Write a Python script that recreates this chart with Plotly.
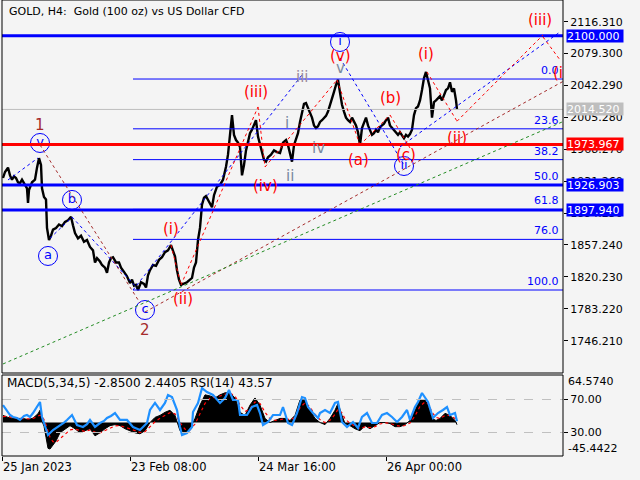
import plotly.graph_objects as go

# ---------------- data ----------------
bar_idx = [1,3,6,8,10,12,14,16,18,20,23,25,26,27,30,33,35,37,39,40,42,44,45,47,49,51,54,57,60,63,66,69,71,73,76,79,82,85,88,91,
           93,95,98,100,103,105,107,109,111,114,117,119,122,125,128,130,132,134,136,139,142,144,146,148,151,154,157,160,163,166,
           169,171,173,175,177,179,182,185,188,190,192,194,196,198,200,202,204,206,208,210,212,215,218,221,224,226,228,230,232,234,
           236,238,240,242,244,246,248,250,252,254,256,258,260,262,264,266,269,272,275,278,281,284,286,288,290,292,294,296,298,300,
           302,304,306,308,310,312,314,316,318,320,322,324,326,328,330,332,334,336,338,340,342,344,346,348,350,352,354,356,358,360,
           362,364,366,368,370,372,374,376,378,380,382,384,386,388,390,392,394,396,398,400,402,404,406,408,410,412,414,416,418,420,
           422,424,426,428,430,432,434,436,438,440,442,444,446,448,450,452,454,455]
close = [1935,1942,1947,1938,1933,1937,1935,1930,1929,1933,1927,1923,1906,1921,1930,1933,1947,1958,1950,1923,1913,1910,1877,1863,1868,1875,1877,1881,1879,1884,
         1886,1890,1880,1871,1865,1868,1861,1863,1855,1851,1837,1842,1838,1834,1831,1825,1837,1842,1843,1837,1837,1831,1826,1821,1813,1817,1810,1811,1805,1814,
         1812,1808,1822,1828,1834,1833,1840,1843,1849,1851,1857,1851,1844,1828,1817,1811,1813,1814,1817,1819,1831,1837,1863,1877,1904,1912,1914,1910,1906,1901,
         1915,1925,1927,1933,1948,1962,1985,2008,1985,1979,1976,1971,1938,1950,1967,1976,1987,1991,1996,2002,1983,1973,1964,1956,1954,1959,1962,1967,1965,1964,
         1976,1979,1973,1965,1954,1973,1981,1987,2000,2012,2021,2022,2016,2012,2005,1996,1993,1995,2000,2002,2005,2007,2012,2019,2028,2035,2043,2049,2034,2020,
         2012,2005,2002,2000,2005,2000,1996,1988,1973,1993,2000,2005,1996,1991,1985,1987,1991,1988,1994,1996,1998,2002,2005,1996,1993,1991,1987,1985,1988,1984,
         1981,1985,1983,1986,1991,2008,2016,2018,2025,2037,2051,2058,2049,2039,2005,2023,2025,2028,2030,2025,2031,2037,2039,2046,2035,2039,2025,2014.52]

macd_idx = [1,6,11,16,21,26,31,36,38,40,42,44,46,48,51,54,58,63,68,73,78,83,88,93,98,103,108,113,118,123,128,133,138,143,148,
            153,158,163,168,173,178,183,188,193,198,203,208,213,218,223,228,233,238,243,248,253,258,263,268,273,278,283,288,293,298,
            303,308,313,318,323,328,333,336,340,343,348,353,358,363,368,373,378,383,388,393,398,403,408,413,418,423,426,430,434,438,
            443,448,453,455]
macd_hist = [9.7,7,5.6,5.6,5.6,4,6,12,16.7,2,-5,-20,-35,-36,-30,-25,-13.9,-8.4,-4.2,-8.4,-13.9,-11.1,-8.4,-18.1,-13.9,
             -8.4,-4.2,-2.8,-4.2,-8.4,-11.1,-13.9,-15.3,-11.1,0,
             7,9.7,13.9,16.7,9.7,-11.1,-15.3,-8.4,5.6,23.7,37.6,36.2,33.4,37.6,40.4,40.4,33.4,13.9,9.7,23.7,33.4,23.7,5.6,0,2.8,5.6,5.6,2.8,9.7,30.6,
             30.6,16.7,5.6,0,-2.8,5.6,16.7,26,9.7,-1.4,-4.2,-8.4,-11.1,-4.2,-8.4,-4.2,0,0,-1.4,-5.6,-5.6,-2.8,2.8,16.7,30.6,30.6,23.7,5.6,2.8,5.6,
             12.5,9.7,2.8,-2.85]
macd_signal = [8,8.5,6.5,5.8,5.6,5,5.5,8,10,8,4,-3,-12,-20,-26,-27,-22,-16,-10,-9,-11,-12,-10,-13,-14,
               -11,-7,-4.5,-4.2,-6,-8.5,-11,-13.5,-12.5,-6,
               1,6,10,13.5,12,0,-9,-10,-2,12,26,33,34,36,38.5,40,36,24,15,19,28,26,14,5,3,4.5,5,4,6.5,20,
               27,21,11,4,0,3,11,18,13,5,-1,-5,-8.5,-6,-7,-5.5,-2,-0.5,-1,-3.5,-5,-4,-0.5,9,22,28,26,14,7,5.5,
               9.5,10,5.5,2.44]

rsi_idx = [1,5,8,11,15,18,22,25,28,31,35,38,40,43,46,51,55,58,62,65,70,75,81,85,88,93,98,102,105,109,113,118,125,131,138,145,148,153,158,163,
           166,170,175,178,180,185,190,191,196,200,205,211,218,223,227,231,236,238,245,250,255,258,261,266,271,278,281,286,290,295,300,303,306,311,316,318,
           323,328,333,336,340,345,351,356,360,365,370,375,380,385,390,395,400,405,408,413,416,420,423,426,431,436,441,445,448,453,455]
rsi = [63.3,56.0,51.2,48.8,47.6,45.2,50,51.2,48.8,53.6,60.9,67.0,48.8,36.7,27.0,33.0,36,39.1,42,45.2,
       51.2,39.1,36.7,40,45.2,36.7,41.5,44,47.6,50,53.6,45.2,45.2,36.7,33.0,41.5,57.3,65.8,57.3,65.8,
       75.5,73.0,57.3,36.7,27.0,29.4,36.7,54.8,65.8,83.9,79.1,75.5,65.8,71.8,81.5,69.4,69.4,51.2,51.2,60.9,
       63.3,53.6,39.1,42.7,51.2,51.2,60.9,41.5,39.1,53.6,73.0,71.8,60.9,53.6,47.6,53.6,57.3,53.6,65.8,67.0,
       42.7,36.7,42.7,35.5,48.8,53.6,41.5,41.5,51.2,53.6,48.8,42.7,48.8,57.3,45.2,60.9,67.0,77.9,71.8,67.0,
       47.6,53.6,57.3,60.9,51.2,53.6,43.57]

price_ticks = [2116.310, 2079.300, 2042.290, 2005.280, 1968.270, 1931.260, 1894.250, 1857.240, 1820.230, 1783.220, 1746.210]
time_tick_idx = [0, 128, 256, 384]
time_tick_labels = ["25 Jan 2023", "23 Feb 08:00", "24 Mar 16:00", "26 Apr 00:00"]

fib_high = 2049.8
fib_low = 1805.0
fib_start_idx = 131
fib_levels = [0.0, 23.6, 38.2, 50.0, 61.8, 76.0, 100.0]

levels = [2100.000, 1973.967, 1926.903, 1897.940]
level_colors = ["#0000FF", "#FF0000", "#0000FF", "#0000FF"]
bid_price = 2014.520

title_text = "GOLD, H4:  Gold (100 oz) vs US Dollar CFD"
ind_text = "MACD(5,34,5) -2.8500 2.4405 RSI(14) 43.57"
macd_max, macd_min = 64.5740, -45.4422

RED = "#FF0000"; BROWN = "#A52A2A"; BLUE = "#0000FF"; SLATE = "#7A8AA0"; MAUVE = "#9C8A9C"
wave_labels = [
    ("1", 38, 1996.5, BROWN), ("2", 143, 1758.6, BROWN),
    ("(i)", 169, 1875.8, RED), ("(ii)", 181, 1794.6, RED),
    ("(iii)", 254, 2034.8, RED), ("(iv)", 263, 1925.7, RED),
    ("iii", 300, 2052.2, MAUVE), ("i", 285, 1998.8, SLATE), ("ii", 288, 1937.3, SLATE),
    ("iv", 316, 1969.8, SLATE), ("v", 338, 2062.6, SLATE),
    ("(v)", 338, 2077.0, RED), ("(a)", 356, 1955.9, RED), ("(b)", 388, 2027.8, RED),
    ("(c)", 404, 1961.5, RED), ("(i)", 424, 2078.8, RED), ("(ii)", 455, 1981.4, RED),
    ("(iii)", 538, 2118.3, RED), ("(i", 556, 2056.8, RED),
]
circled = [("v", 38, 1975.6), ("b", 70, 1909.5), ("a", 46, 1844.5), ("c", 143, 1781.8),
           ("i", 338, 2092.8), ("ii", 402, 1948.9)]

trend_lines = [
    (6, 1932.7, 36, 1958.2, BLUE), (48, 1865.0, 70, 1889.7, BLUE), (70, 1889.7, 135, 1807.4, BLUE),
    (131, 1805.0, 300, 2054.5, BLUE), (338, 2074.2, 402, 1950.1, BLUE), (398, 1971.0, 558, 2104.4, BLUE),
    (169, 1857.3, 179, 1810.8, RED), (179, 1810.8, 256, 2017.4, RED), (256, 2017.4, 263, 1947.7, RED),
    (263, 1947.7, 335, 2048.7, RED), (335, 2048.7, 358, 1973.3, RED), (358, 1973.3, 388, 2008.1, RED),
    (388, 2008.1, 408, 1969.8, RED), (425, 2058.0, 456, 1999.0, RED), (455, 2000.8, 541, 2100.9, RED),
    (541, 2098.6, 558, 2072.0, RED),
    (38, 1973.3, 138, 1790.0, BROWN), (143, 1779.5, 561, 2047.0, BROWN),
    (1, 1719.2, 560, 1999.9, "#228B22"),
]

# ---------------- figure ----------------
BG = "#F4F4F4"
FONT = "DejaVu Sans"
fig = go.Figure()

fig.add_trace(go.Scatter(x=bar_idx, y=close, mode="lines", line=dict(color="black", width=2.4),
                         xaxis="x", yaxis="y", hoverinfo="skip", showlegend=False))

# circled wave labels
fig.add_trace(go.Scatter(x=[c[1] for c in circled], y=[c[2] for c in circled], mode="markers+text",
                         text=[c[0] for c in circled], textposition="middle center",
                         textfont=dict(family=FONT, size=13, color=BLUE),
                         marker=dict(symbol="circle-open", size=19, color=BLUE, line=dict(width=1, color=BLUE)),
                         xaxis="x", yaxis="y", hoverinfo="skip", showlegend=False))

# lower panel
fig.add_trace(go.Scatter(x=macd_idx, y=macd_hist, mode="lines", fill="tozeroy", fillcolor="black",
                         line=dict(color="black", width=1), xaxis="x", yaxis="y2",
                         hoverinfo="skip", showlegend=False))
fig.add_trace(go.Scatter(x=macd_idx, y=macd_signal, mode="lines", line=dict(color="#FF0000", width=1.2, dash="dot"),
                         xaxis="x", yaxis="y2", hoverinfo="skip", showlegend=False))
fig.add_trace(go.Scatter(x=rsi_idx, y=rsi, mode="lines", line=dict(color="#1E90FF", width=2.2),
                         xaxis="x", yaxis="y3", hoverinfo="skip", showlegend=False))

shapes = []
annotations = []

# full-width levels
for lv, col in zip(levels, level_colors):
    shapes.append(dict(type="line", xref="x", yref="y", x0=0, x1=561, y0=lv, y1=lv,
                       line=dict(color=col, width=3)))
    annotations.append(dict(xref="paper", yref="y", x=1.0053, y=lv, xanchor="left", yanchor="middle",
                            text=f"{lv:.3f}", showarrow=False, bgcolor=col, width=56, height=12,
                            borderpad=0, align="left", font=dict(family=FONT, size=11, color="white")))
shapes.append(dict(type="line", xref="x", yref="y", x0=0, x1=561, y0=bid_price, y1=bid_price,
                   line=dict(color="#BEBEBE", width=1)))
annotations.append(dict(xref="paper", yref="y", x=1.0053, y=bid_price, xanchor="left", yanchor="middle",
                        text=f"{bid_price:.3f}", showarrow=False, bgcolor="#BEBEBE", width=56, height=12,
                        borderpad=0, align="left", font=dict(family=FONT, size=11, color="white")))

# fibonacci
for f in fib_levels:
    p = fib_high - (fib_high - fib_low) * f / 100.0
    shapes.append(dict(type="line", xref="x", yref="y", x0=fib_start_idx, x1=561, y0=p, y1=p,
                       line=dict(color=BLUE, width=1)))
    annotations.append(dict(xref="x", yref="y", x=559, y=p, xanchor="right", yanchor="bottom",
                            text=f"{f:.1f}", showarrow=False, font=dict(family=FONT, size=11, color=BLUE)))

# trend / wave lines
for x0, p0, x1, p1, col in trend_lines:
    shapes.append(dict(type="line", xref="x", yref="y", x0=x0, y0=p0, x1=x1, y1=p1,
                       line=dict(color=col, width=1, dash="dot")))

# wave labels
for t, x, p, col in wave_labels:
    annotations.append(dict(xref="x", yref="y", x=x, y=p, text=t, showarrow=False,
                            font=dict(family=FONT, size=15, color=col)))

# RSI levels
for lv in [70, 30]:
    shapes.append(dict(type="line", xref="x", yref="y3", x0=0, x1=561, y0=lv, y1=lv,
                       line=dict(color="#C0C0C0", width=1, dash="dash")))

# panel frames
shapes.append(dict(type="rect", xref="paper", yref="paper", x0=0, x1=1, y0=0.182, y1=1,
                   line=dict(color="black", width=1)))
shapes.append(dict(type="rect", xref="paper", yref="paper", x0=0, x1=1, y0=0, y1=0.1776,
                   line=dict(color="black", width=1)))

# texts
annotations.append(dict(xref="paper", yref="paper", x=0.009, y=0.9737, xanchor="left", yanchor="middle",
                        text=title_text, showarrow=False, font=dict(family=FONT, size=11, color="black")))
annotations.append(dict(xref="paper", yref="paper", x=0.0053, y=0.16, xanchor="left", yanchor="middle",
                        text=ind_text, showarrow=False, font=dict(family=FONT, size=12, color="black")))
annotations.append(dict(xref="paper", yref="y2", x=1.0053, y=55.1, xanchor="left", yanchor="middle",
                        text=f"{macd_max:.4f}", showarrow=False, font=dict(family=FONT, size=11, color="black")))
annotations.append(dict(xref="paper", yref="y2", x=1.0053, y=-35.9, xanchor="left", yanchor="middle",
                        text=f"{macd_min:.4f}", showarrow=False, font=dict(family=FONT, size=11, color="black")))
for ti, tl in zip(time_tick_idx, time_tick_labels):
    annotations.append(dict(xref="x", yref="paper", x=ti, y=-0.025, xanchor="left", yanchor="middle",
                            text=tl, showarrow=False, xshift=-1, font=dict(family=FONT, size=11.5, color="black")))

fig.update_layout(
    width=640, height=480,
    margin=dict(l=2, r=77, t=0, b=24),
    paper_bgcolor=BG, plot_bgcolor=BG,
    showlegend=False,
    xaxis=dict(domain=[0, 1], range=[0, 561], anchor="y2", showgrid=False, zeroline=False,
               tickvals=time_tick_idx, ticks="outside", ticklen=4, tickcolor="black",
               showticklabels=False, showline=False, fixedrange=True),
    yaxis=dict(domain=[0.182, 1], range=[1708.7, 2141.5], side="right", anchor="x",
               tickvals=price_ticks, ticktext=[f"{v:.3f}" for v in price_ticks],
               ticks="outside", ticklen=4, tickcolor="black", showgrid=False, zeroline=False,
               tickfont=dict(family=FONT, size=11, color="black")),
    yaxis2=dict(domain=[0, 0.1776], range=[macd_min, macd_max], side="right", anchor="x",
                showticklabels=False, showgrid=False, zeroline=False, ticks=""),
    yaxis3=dict(overlaying="y2", range=[1.5, 99.7], side="right", anchor="x",
                tickvals=[70, 30], ticktext=["70.00", "30.00"], ticks="outside", ticklen=4,
                tickcolor="black", showgrid=False, zeroline=False,
                tickfont=dict(family=FONT, size=11, color="black")),
    shapes=shapes,
    annotations=annotations,
)

fig.write_html("out.html", config={"displayModeBar": False},
               post_script="document.body.style.margin='0';document.body.style.background='#F4F4F4';")
